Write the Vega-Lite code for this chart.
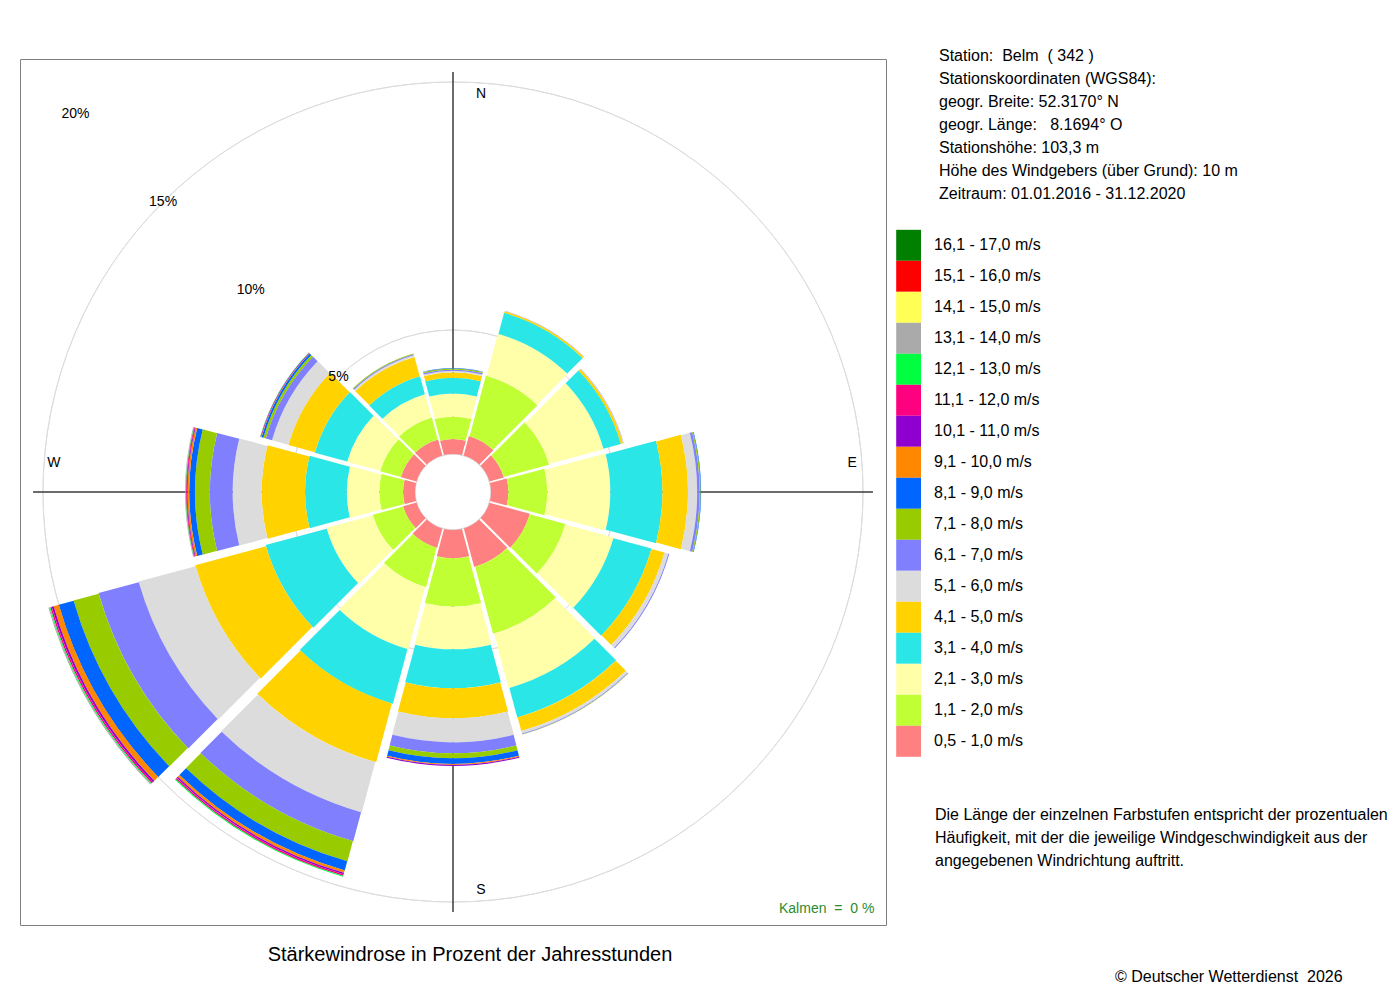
{
  "$schema": "https://vega.github.io/schema/vega-lite/v6.json",
  "width": 866,
  "height": 866,
  "autosize": "none",
  "padding": {"left": 20, "top": 59, "right": 514, "bottom": 75},
  "background": "white",
  "config": {
    "font": "Liberation Sans",
    "view": {"stroke": "#808080", "strokeWidth": 1},
    "text": {"font": "Liberation Sans"}
  },
  "datasets": {
    "wind": [
      {"richtung": 0, "stufe": 1, "prozent": 0.60}, {"richtung": 0, "stufe": 2, "prozent": 0.90}, {"richtung": 0, "stufe": 3, "prozent": 0.94},
      {"richtung": 0, "stufe": 4, "prozent": 0.63}, {"richtung": 0, "stufe": 5, "prozent": 0.22}, {"richtung": 0, "stufe": 6, "prozent": 0.06},
      {"richtung": 0, "stufe": 7, "prozent": 0.06}, {"richtung": 0, "stufe": 8, "prozent": 0.04}, {"richtung": 0, "stufe": 9, "prozent": 0.02},

      {"richtung": 30, "stufe": 1, "prozent": 0.81}, {"richtung": 30, "stufe": 2, "prozent": 2.54}, {"richtung": 30, "stufe": 3, "prozent": 1.75},
      {"richtung": 30, "stufe": 4, "prozent": 0.88}, {"richtung": 30, "stufe": 5, "prozent": 0.07}, {"richtung": 30, "stufe": 6, "prozent": 0.01},
      {"richtung": 30, "stufe": 7, "prozent": 0.01},

      {"richtung": 60, "stufe": 1, "prozent": 0.60}, {"richtung": 60, "stufe": 2, "prozent": 1.90}, {"richtung": 60, "stufe": 3, "prozent": 2.28},
      {"richtung": 60, "stufe": 4, "prozent": 0.73}, {"richtung": 60, "stufe": 5, "prozent": 0.09}, {"richtung": 60, "stufe": 6, "prozent": 0.02},
      {"richtung": 60, "stufe": 7, "prozent": 0.01},

      {"richtung": 90, "stufe": 1, "prozent": 0.70}, {"richtung": 90, "stufe": 2, "prozent": 1.57}, {"richtung": 90, "stufe": 3, "prozent": 2.54},
      {"richtung": 90, "stufe": 4, "prozent": 2.10}, {"richtung": 90, "stufe": 5, "prozent": 1.03}, {"richtung": 90, "stufe": 6, "prozent": 0.37},
      {"richtung": 90, "stufe": 7, "prozent": 0.10}, {"richtung": 90, "stufe": 8, "prozent": 0.04}, {"richtung": 90, "stufe": 9, "prozent": 0.02},

      {"richtung": 120, "stufe": 1, "prozent": 1.69}, {"richtung": 120, "stufe": 2, "prozent": 1.49}, {"richtung": 120, "stufe": 3, "prozent": 2.02},
      {"richtung": 120, "stufe": 4, "prozent": 1.59}, {"richtung": 120, "stufe": 5, "prozent": 0.55}, {"richtung": 120, "stufe": 6, "prozent": 0.16},
      {"richtung": 120, "stufe": 7, "prozent": 0.04},

      {"richtung": 150, "stufe": 1, "prozent": 1.61}, {"richtung": 150, "stufe": 2, "prozent": 2.80}, {"richtung": 150, "stufe": 3, "prozent": 2.28},
      {"richtung": 150, "stufe": 4, "prozent": 1.23}, {"richtung": 150, "stufe": 5, "prozent": 0.57}, {"richtung": 150, "stufe": 6, "prozent": 0.11},
      {"richtung": 150, "stufe": 7, "prozent": 0.03}, {"richtung": 150, "stufe": 8, "prozent": 0.01},

      {"richtung": 180, "stufe": 1, "prozent": 1.14}, {"richtung": 180, "stufe": 2, "prozent": 1.95}, {"richtung": 180, "stufe": 3, "prozent": 1.72},
      {"richtung": 180, "stufe": 4, "prozent": 1.57}, {"richtung": 180, "stufe": 5, "prozent": 1.21}, {"richtung": 180, "stufe": 6, "prozent": 0.97},
      {"richtung": 180, "stufe": 7, "prozent": 0.44}, {"richtung": 180, "stufe": 8, "prozent": 0.20}, {"richtung": 180, "stufe": 9, "prozent": 0.23},
      {"richtung": 180, "stufe": 10, "prozent": 0.04}, {"richtung": 180, "stufe": 11, "prozent": 0.04},

      {"richtung": 210, "stufe": 1, "prozent": 0.81}, {"richtung": 210, "stufe": 2, "prozent": 1.65}, {"richtung": 210, "stufe": 3, "prozent": 2.60},
      {"richtung": 210, "stufe": 4, "prozent": 2.28}, {"richtung": 210, "stufe": 5, "prozent": 2.46}, {"richtung": 210, "stufe": 6, "prozent": 2.10},
      {"richtung": 210, "stufe": 7, "prozent": 1.21}, {"richtung": 210, "stufe": 8, "prozent": 0.85}, {"richtung": 210, "stufe": 9, "prozent": 0.38},
      {"richtung": 210, "stufe": 10, "prozent": 0.10}, {"richtung": 210, "stufe": 11, "prozent": 0.06}, {"richtung": 210, "stufe": 12, "prozent": 0.06},
      {"richtung": 210, "stufe": 13, "prozent": 0.04},

      {"richtung": 240, "stufe": 1, "prozent": 0.56}, {"richtung": 240, "stufe": 2, "prozent": 1.27}, {"richtung": 240, "stufe": 3, "prozent": 1.94},
      {"richtung": 240, "stufe": 4, "prozent": 2.55}, {"richtung": 240, "stufe": 5, "prozent": 2.95}, {"richtung": 240, "stufe": 6, "prozent": 2.38},
      {"richtung": 240, "stufe": 7, "prozent": 1.68}, {"richtung": 240, "stufe": 8, "prozent": 1.05}, {"richtung": 240, "stufe": 9, "prozent": 0.62},
      {"richtung": 240, "stufe": 10, "prozent": 0.22}, {"richtung": 240, "stufe": 11, "prozent": 0.08}, {"richtung": 240, "stufe": 12, "prozent": 0.06},
      {"richtung": 240, "stufe": 13, "prozent": 0.04}, {"richtung": 240, "stufe": 14, "prozent": 0.04},

      {"richtung": 270, "stufe": 1, "prozent": 0.48}, {"richtung": 270, "stufe": 2, "prozent": 0.96}, {"richtung": 270, "stufe": 3, "prozent": 1.31},
      {"richtung": 270, "stufe": 4, "prozent": 1.68}, {"richtung": 270, "stufe": 5, "prozent": 1.75}, {"richtung": 270, "stufe": 6, "prozent": 1.17},
      {"richtung": 270, "stufe": 7, "prozent": 0.92}, {"richtung": 270, "stufe": 8, "prozent": 0.60}, {"richtung": 270, "stufe": 9, "prozent": 0.23},
      {"richtung": 270, "stufe": 10, "prozent": 0.07}, {"richtung": 270, "stufe": 11, "prozent": 0.03}, {"richtung": 270, "stufe": 12, "prozent": 0.03},
      {"richtung": 270, "stufe": 13, "prozent": 0.02}, {"richtung": 270, "stufe": 14, "prozent": 0.02},

      {"richtung": 300, "stufe": 1, "prozent": 0.65}, {"richtung": 300, "stufe": 2, "prozent": 0.87}, {"richtung": 300, "stufe": 3, "prozent": 1.39},
      {"richtung": 300, "stufe": 4, "prozent": 1.35}, {"richtung": 300, "stufe": 5, "prozent": 1.11}, {"richtung": 300, "stufe": 6, "prozent": 0.69},
      {"richtung": 300, "stufe": 7, "prozent": 0.26}, {"richtung": 300, "stufe": 8, "prozent": 0.10}, {"richtung": 300, "stufe": 9, "prozent": 0.08},
      {"richtung": 300, "stufe": 10, "prozent": 0.02}, {"richtung": 300, "stufe": 11, "prozent": 0.02}, {"richtung": 300, "stufe": 12, "prozent": 0.01},
      {"richtung": 300, "stufe": 13, "prozent": 0.01},

      {"richtung": 330, "stufe": 1, "prozent": 0.67}, {"richtung": 330, "stufe": 2, "prozent": 0.92}, {"richtung": 330, "stufe": 3, "prozent": 0.98},
      {"richtung": 330, "stufe": 4, "prozent": 0.75}, {"richtung": 330, "stufe": 5, "prozent": 0.81}, {"richtung": 330, "stufe": 6, "prozent": 0.07},
      {"richtung": 330, "stufe": 7, "prozent": 0.05}, {"richtung": 330, "stufe": 8, "prozent": 0.03}
    ],
    "sektoren": [
      {"richtung": 0, "von": -15, "bis": 15}, {"richtung": 30, "von": 15, "bis": 45},
      {"richtung": 60, "von": 45, "bis": 75}, {"richtung": 90, "von": 75, "bis": 105},
      {"richtung": 120, "von": 105, "bis": 135}, {"richtung": 150, "von": 135, "bis": 165},
      {"richtung": 180, "von": 165, "bis": 195}, {"richtung": 210, "von": 195, "bis": 225},
      {"richtung": 240, "von": 225, "bis": 255}, {"richtung": 270, "von": 255, "bis": 285},
      {"richtung": 300, "von": 285, "bis": 315}, {"richtung": 330, "von": 315, "bis": 345}
    ],
    "klassen": [
      {"stufe": 1, "klasse": "0,5 - 1,0 m/s"}, {"stufe": 2, "klasse": "1,1 - 2,0 m/s"},
      {"stufe": 3, "klasse": "2,1 - 3,0 m/s"}, {"stufe": 4, "klasse": "3,1 - 4,0 m/s"},
      {"stufe": 5, "klasse": "4,1 - 5,0 m/s"}, {"stufe": 6, "klasse": "5,1 - 6,0 m/s"},
      {"stufe": 7, "klasse": "6,1 - 7,0 m/s"}, {"stufe": 8, "klasse": "7,1 - 8,0 m/s"},
      {"stufe": 9, "klasse": "8,1 - 9,0 m/s"}, {"stufe": 10, "klasse": "9,1 - 10,0 m/s"},
      {"stufe": 11, "klasse": "10,1 - 11,0 m/s"}, {"stufe": 12, "klasse": "11,1 - 12,0 m/s"},
      {"stufe": 13, "klasse": "12,1 - 13,0 m/s"}, {"stufe": 14, "klasse": "13,1 - 14,0 m/s"},
      {"stufe": 15, "klasse": "14,1 - 15,0 m/s"}, {"stufe": 16, "klasse": "15,1 - 16,0 m/s"},
      {"stufe": 17, "klasse": "16,1 - 17,0 m/s"}
    ],
    "ringe": [
      {"ring": 0, "label": ""}, {"ring": 5, "label": "5%"}, {"ring": 10, "label": "10%"},
      {"ring": 15, "label": "15%"}, {"ring": 20, "label": "20%"}
    ],
    "achsen": [{"winkel": 0}, {"winkel": 90}, {"winkel": 180}, {"winkel": 270}],
    "nord_sued": [{"richtung": "N", "winkel": 0}, {"richtung": "S", "winkel": 180}],
    "ost_west": [{"richtung": "E", "winkel": 90}, {"richtung": "W", "winkel": 270}],
    "notizen": [
      {"block": 1, "zeilen": [
        "Station:\u00a0 Belm\u00a0 ( 342 )",
        "Stationskoordinaten (WGS84):",
        "geogr. Breite: 52.3170° N",
        "geogr. Länge:\u00a0\u00a0 8.1694° O",
        "Stationshöhe: 103,3 m",
        "Höhe des Windgebers (über Grund): 10 m",
        "Zeitraum: 01.01.2016 - 31.12.2020"
      ]},
      {"block": 2, "zeilen": [
        "Die Länge der einzelnen Farbstufen entspricht der prozentualen",
        "Häufigkeit, mit der die jeweilige Windgeschwindigkeit aus der",
        "angegebenen Windrichtung auftritt."
      ]},
      {"block": 3, "zeilen": ["© Deutscher Wetterdienst\u00a0 2026"]}
    ],
    "kalmen": [{"block": 4, "zeilen": ["Kalmen\u00a0 =\u00a0 0 %"]}],
    "titel": [{"block": 5, "zeilen": ["Stärkewindrose in Prozent der Jahresstunden"]}]
  },
  "layer": [
    {
      "data": {"name": "ringe"},
      "mark": {"type": "arc", "filled": false, "color": "#dddddd", "strokeWidth": 1, "clip": true},
      "encoding": {
        "theta": {"datum": 0, "type": "quantitative", "scale": {"domain": [0, 360]}},
        "theta2": {"datum": 360},
        "radius": {"field": "ring", "type": "quantitative", "scale": {"type": "linear", "domain": [0, 20], "range": [38, 534], "zero": false}}
      }
    },
    {
      "data": {"name": "achsen"},
      "mark": {"type": "arc", "filled": false, "color": "#3a3a3a", "strokeWidth": 1},
      "encoding": {
        "theta": {"field": "winkel", "type": "quantitative", "scale": {"domain": [0, 360]}},
        "theta2": {"field": "winkel"},
        "radius": {"datum": 15.4, "type": "quantitative", "scale": {"type": "linear", "domain": [0, 20], "range": [38, 534], "zero": false}}
      }
    },
    {
      "data": {"name": "wind"},
      "transform": [
        {"lookup": "richtung", "from": {"data": {"name": "sektoren"}, "key": "richtung", "fields": ["von", "bis"]}},
        {"lookup": "stufe", "from": {"data": {"name": "klassen"}, "key": "stufe", "fields": ["klasse"]}},
        {"stack": "prozent", "groupby": ["richtung"], "sort": [{"field": "stufe", "order": "ascending"}], "as": ["unten", "oben"]}
      ],
      "mark": {"type": "arc", "padAngle": 0.024, "strokeWidth": 0},
      "encoding": {
        "theta": {"field": "von", "type": "quantitative", "stack": null, "scale": {"domain": [0, 360]}},
        "theta2": {"field": "bis"},
        "radius": {"field": "oben", "type": "quantitative", "stack": null, "scale": {"type": "linear", "domain": [0, 20], "range": [38, 534], "zero": false}},
        "radius2": {"field": "unten"},
        "color": {
          "field": "klasse",
          "type": "nominal",
          "scale": {
            "domain": ["16,1 - 17,0 m/s", "15,1 - 16,0 m/s", "14,1 - 15,0 m/s", "13,1 - 14,0 m/s", "12,1 - 13,0 m/s", "11,1 - 12,0 m/s", "10,1 - 11,0 m/s", "9,1 - 10,0 m/s", "8,1 - 9,0 m/s", "7,1 - 8,0 m/s", "6,1 - 7,0 m/s", "5,1 - 6,0 m/s", "4,1 - 5,0 m/s", "3,1 - 4,0 m/s", "2,1 - 3,0 m/s", "1,1 - 2,0 m/s", "0,5 - 1,0 m/s"],
            "range": ["#007f00", "#ff0000", "#ffff55", "#aaaaaa", "#00ff40", "#ff0080", "#8f00d0", "#ff8800", "#0066ff", "#99cc00", "#8080ff", "#dcdcdc", "#ffd200", "#2ae6e6", "#ffffaa", "#bfff33", "#ff8080"]
          },
          "legend": {
            "orient": "none",
            "legendX": 873.1,
            "legendY": 170.8,
            "title": null,
            "padding": 0,
            "rowPadding": 0,
            "symbolType": "M-0.8,-1H0.8V1H-0.8Z",
            "symbolSize": 961,
            "symbolStrokeWidth": 0,
            "symbolOpacity": 1,
            "labelFont": "Liberation Sans",
            "labelFontSize": 16,
            "labelColor": "black",
            "labelOffset": 9.9,
            "labelLimit": 0
          }
        }
      }
    },
    {
      "data": {"name": "nord_sued"},
      "mark": {"type": "text", "fontSize": 14, "color": "black", "dx": 28, "align": "center", "baseline": "middle"},
      "encoding": {
        "theta": {"field": "winkel", "type": "quantitative", "scale": {"domain": [0, 360]}},
        "radius": {"datum": 14.52, "type": "quantitative", "scale": {"type": "linear", "domain": [0, 20], "range": [38, 534], "zero": false}},
        "text": {"field": "richtung", "type": "nominal"}
      }
    },
    {
      "data": {"name": "ost_west"},
      "mark": {"type": "text", "fontSize": 14, "color": "black", "dy": -29, "align": "center", "baseline": "middle"},
      "encoding": {
        "theta": {"field": "winkel", "type": "quantitative", "scale": {"domain": [0, 360]}},
        "radius": {"datum": 14.56, "type": "quantitative", "scale": {"type": "linear", "domain": [0, 20], "range": [38, 534], "zero": false}},
        "text": {"field": "richtung", "type": "nominal"}
      }
    },
    {
      "data": {"name": "ringe"},
      "mark": {"type": "text", "fontSize": 14, "color": "black", "align": "center", "baseline": "middle"},
      "encoding": {
        "theta": {"datum": 315, "type": "quantitative", "scale": {"domain": [0, 360]}},
        "radius": {"field": "ring", "type": "quantitative", "scale": {"type": "linear", "domain": [0, 20], "range": [38, 534], "zero": false}},
        "text": {"field": "label", "type": "nominal"}
      }
    },
    {
      "data": {"name": "notizen"},
      "mark": {"type": "text", "align": "left", "baseline": "alphabetic", "fontSize": 16, "lineHeight": 23.15, "color": "black"},
      "encoding": {
        "x": {"field": "block", "type": "quantitative", "axis": null, "scale": {"domain": [1, 2, 3, 4, 5], "range": [919, 915, 1095, 759, 450], "nice": false, "zero": false}},
        "y": {"field": "block", "type": "quantitative", "axis": null, "scale": {"domain": [1, 2, 3, 4, 5], "range": [1.5, 761, 923, 854, 902], "nice": false, "zero": false}},
        "text": {"field": "zeilen", "type": "nominal"}
      }
    },
    {
      "data": {"name": "kalmen"},
      "mark": {"type": "text", "align": "left", "baseline": "alphabetic", "fontSize": 14, "color": "#2e8b2e"},
      "encoding": {
        "x": {"field": "block", "type": "quantitative", "axis": null, "scale": {"domain": [1, 2, 3, 4, 5], "range": [919, 915, 1095, 759, 450], "nice": false, "zero": false}},
        "y": {"field": "block", "type": "quantitative", "axis": null, "scale": {"domain": [1, 2, 3, 4, 5], "range": [1.5, 761, 923, 854, 902], "nice": false, "zero": false}},
        "text": {"field": "zeilen", "type": "nominal"}
      }
    },
    {
      "data": {"name": "titel"},
      "mark": {"type": "text", "align": "center", "baseline": "alphabetic", "fontSize": 20, "color": "black"},
      "encoding": {
        "x": {"field": "block", "type": "quantitative", "axis": null, "scale": {"domain": [1, 2, 3, 4, 5], "range": [919, 915, 1095, 759, 450], "nice": false, "zero": false}},
        "y": {"field": "block", "type": "quantitative", "axis": null, "scale": {"domain": [1, 2, 3, 4, 5], "range": [1.5, 761, 923, 854, 902], "nice": false, "zero": false}},
        "text": {"field": "zeilen", "type": "nominal"}
      }
    }
  ]
}
